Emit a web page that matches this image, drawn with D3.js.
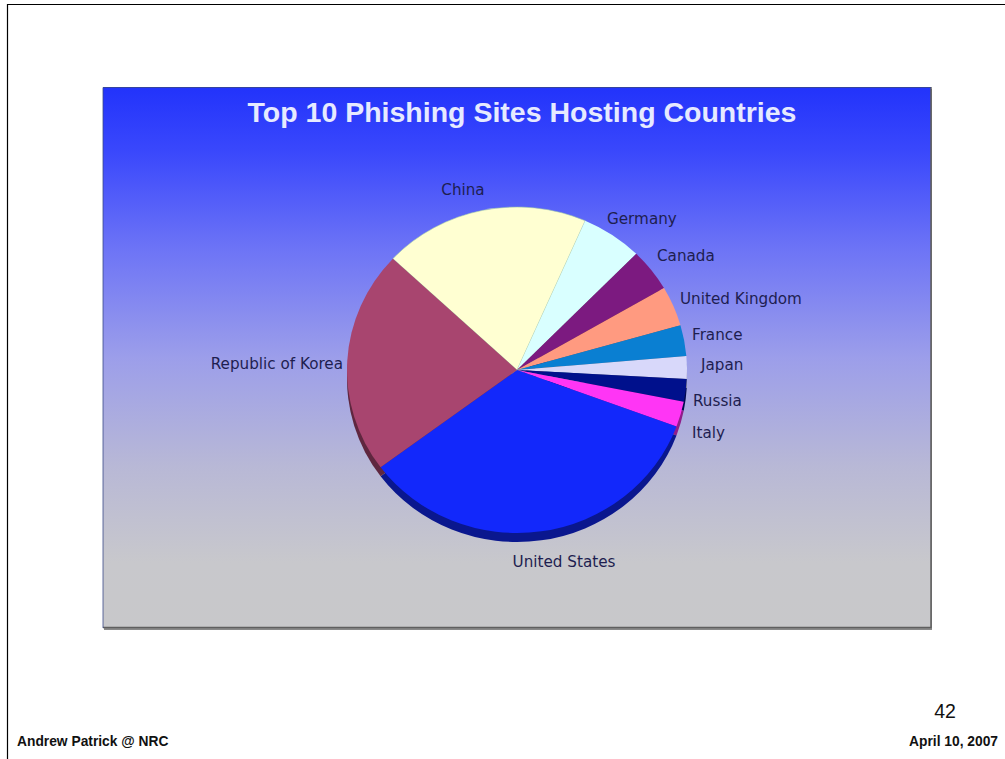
<!DOCTYPE html>
<html>
<head>
<meta charset="utf-8">
<title>Top 10 Phishing Sites Hosting Countries</title>
<script src="https://cdn.jsdelivr.net/npm/d3@7/dist/d3.min.js"></script>
<style>
html,body{margin:0;padding:0;background:#fff;}
svg{display:block;}
</style>
</head>
<body>
<svg id="slide" width="1005" height="759"></svg>
<script>
// Share of phishing sites per hosting country, clockwise from China
const countries = ["China","Germany","Canada","United Kingdom","France","Japan","Russia","Italy","United States","Republic of Korea"];
const shares = [19.6,5.8,4.25,3.95,3.05,2.25,2.25,2.5,34.2,22.15];
const sliceColors = ["#ffffd2","#d9ffff","#7c1a80","#ff9a80","#0a7fd2","#d8d8fa","#00108c","#ff35f5","#1228fb","#a8456f"];

// Hand-placed label anchors: [x, baseline y, text-anchor]
const labelPlacement = {
  "China":[463,195,"middle"],
  "Germany":[607,224,"start"],
  "Canada":[657,261,"start"],
  "United Kingdom":[680,304,"start"],
  "France":[692,340,"start"],
  "Japan":[701,370,"start"],
  "Russia":[693,406,"start"],
  "Italy":[692,438,"start"],
  "Republic of Korea":[343,369,"end"],
  "United States":[564,567,"middle"]
};

const svg = d3.select("#slide");
const defs = svg.append("defs");

const bg = defs.append("linearGradient").attr("id","panelFill")
  .attr("x1",0).attr("y1",0).attr("x2",0).attr("y2",1);
[[0,"#2233fb"],[0.12,"#3a48fc"],[0.3,"#6d74f6"],[0.5,"#9c9eea"],[0.7,"#b8b8d6"],[0.88,"#c8c8cc"],[1,"#c8c8ca"]]
  .forEach(([o,c]) => bg.append("stop").attr("offset",o).attr("stop-color",c));

// Slide frame: only the top and left edges are visible
svg.append("path").attr("d","M7.5,759V4.5H1005").attr("fill","none").attr("stroke","#000").attr("stroke-width",1.2);

// Chart panel with its bottom/right shadow edge
svg.append("rect").attr("x",104).attr("y",89).attr("width",828).attr("height",541).attr("fill","#8a8a8a");
svg.append("rect").attr("x",103).attr("y",87).attr("width",828).attr("height",541).attr("fill","url(#panelFill)");
svg.append("path").attr("d","M103,627.5H931V87").attr("fill","none").attr("stroke","#5f5f5f").attr("stroke-width",1.5);
svg.append("path").attr("d","M103,628V87.5H931").attr("fill","none").attr("stroke","#3a4a88").attr("stroke-width",0.8);

svg.append("text").attr("x",522).attr("y",122).attr("text-anchor","middle")
  .attr("font-family","'Liberation Sans',Arial,sans-serif").attr("font-weight","bold").attr("font-size",28.5)
  .attr("fill","#e6eaff").text("Top 10 Phishing Sites Hosting Countries");

// Pie geometry: a circle squashed slightly to suggest tilt
const radius = 170, squash = 163/170, depth = 9;
const pie = d3.pie().sort(null).value(d => d)
  .startAngle(-46.9*Math.PI/180).endAngle(313.1*Math.PI/180);
const arcs = pie(shares);
const arc = d3.arc().innerRadius(0).outerRadius(radius);

const chart = svg.append("g").attr("transform","translate(517,370)");

// Extruded rim: the same slices, darkened and pushed down
const rim = chart.append("g").attr("transform",`translate(0,${depth}) scale(1,${squash})`);
rim.selectAll("path").data(arcs).join("path")
  .attr("d",arc)
  .attr("fill",(d,i) => d3.color(sliceColors[i]).darker(1.6));

const face = chart.append("g").attr("transform",`scale(1,${squash})`);
face.selectAll("path").data(arcs).join("path")
  .attr("d",arc)
  .attr("fill",(d,i) => sliceColors[i])
  .attr("stroke",(d,i) => i === 0 ? "#9fc9a8" : "none")
  .attr("stroke-width",0.6);

// Country labels
svg.append("g").selectAll("text").data(countries).join("text")
  .attr("x",d => labelPlacement[d][0])
  .attr("y",d => labelPlacement[d][1])
  .attr("text-anchor",d => labelPlacement[d][2])
  .attr("font-family","'DejaVu Sans',Verdana,sans-serif")
  .attr("font-size",15.2)
  .attr("fill","#1e1e50")
  .text(d => d);

// Slide footer
const footer = svg.append("g").attr("font-family","'Liberation Sans',Arial,sans-serif").attr("fill","#111");
footer.append("text").attr("x",17).attr("y",746).attr("font-weight","bold").attr("font-size",13.8).text("Andrew Patrick @ NRC");
footer.append("text").attr("x",998).attr("y",746).attr("text-anchor","end").attr("font-weight","bold").attr("font-size",13.8).text("April 10, 2007");
footer.append("text").attr("x",945).attr("y",718).attr("text-anchor","middle").attr("font-size",19.5).text("42");
</script>
</body>
</html>
